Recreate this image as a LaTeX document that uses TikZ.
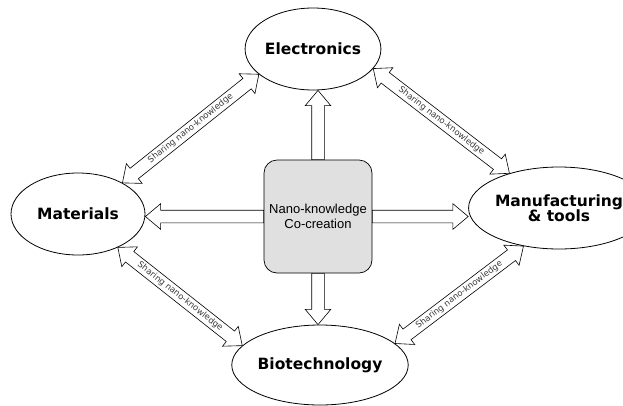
\documentclass[tikz,border=0pt]{standalone}
\usepackage{fontspec}
\setmainfont{DejaVu Sans}
\newfontfamily\arialfont{Liberation Sans}
\usetikzlibrary{shapes.arrows,shapes.geometric,calc}
\definecolor{hubgray}{HTML}{E0E0E0}
\definecolor{labelgray}{HTML}{3A3A3A}
\newcommand\BlockArr[4]{%
  \path let \p1=(#2), \p2=(#3), \n1={atan2(\y2-\y1,\x2-\x1)}, \n2={veclen(\x2-\x1,\y2-\y1)} in
    node[#1, minimum height=\n2, rotate=\n1] at ($(#2)!0.5!(#3)$) {#4};}
\newcommand\OneArr[3]{%
  \path let \p1=(#2), \p2=(#3), \n1={atan2(\y2-\y1,\x2-\x1)}, \n2={veclen(\x2-\x1,\y2-\y1)} in
    node[#1, minimum height=\n2, rotate=\n1, anchor=tail] at (#2) {};}
\tikzset{
  ell/.style={draw, ellipse, line width=0.8pt, inner sep=0pt, align=center,
    font=\fontsize{15.5}{17}\selectfont\bfseries},
  hub/.style={draw, rounded corners=13pt, fill=hubgray, minimum width=108pt,
    minimum height=113pt, inner sep=0pt, align=center, line width=0.7pt,
    font=\arialfont\fontsize{13}{15}\selectfont},
  sarrow/.style={draw, single arrow, fill=white, line width=0.6pt, inner xsep=0pt,
    inner ysep=6pt, outer sep=0pt, single arrow head extend=6.5pt, single arrow tip angle=80},
  darrow/.style={draw, double arrow, fill=white, line width=0.6pt, text=labelgray,
    font=\fontsize{8.5}{9}\selectfont, text height=6.3pt, text depth=1.8pt,
    inner xsep=2pt, inner ysep=2.3pt, outer sep=0pt, double arrow head extend=6pt,
    double arrow tip angle=80}
}
\begin{document}
\begin{tikzpicture}[x=1pt,y=-1pt]
\useasboundingbox (0,0) rectangle (623,405);
\node[ell, minimum width=132pt, minimum height=82pt] (ele) at (313,49) {Electronics};
\node[ell, minimum width=134pt, minimum height=82pt] (mat) at (78,214) {Materials};
\node[ell, minimum width=132pt, minimum height=82pt] (man) at (559,208) {Manufacturing\\[-2pt]\& tools};
\node[ell, minimum width=134pt, minimum height=80pt] (bio) at (320,365) {Biotechnology};
\node[hub] (hub) at (318,216.5) {Nano-knowledge\\Co-creation};
\coordinate (et) at (hub.north |- ele.south);
\coordinate (bt) at (hub.south |- bio.north);
\coordinate (mt) at (hub.west -| mat.east);
\coordinate (nt) at (hub.east -| man.west);
\OneArr{sarrow}{hub.north}{et}
\OneArr{sarrow}{hub.south}{bt}
\OneArr{sarrow}{hub.west}{mt}
\OneArr{sarrow}{hub.east}{nt}
\BlockArr{darrow}{mat.35}{ele.205}{Sharing nano-knowledge}
\BlockArr{darrow}{ele.342}{man.145}{Sharing nano-knowledge}
\BlockArr{darrow}{mat.320}{bio.166}{Sharing nano-knowledge}
\BlockArr{darrow}{bio.16}{man.227}{Sharing nano-knowledge}
\end{tikzpicture}
\end{document}
